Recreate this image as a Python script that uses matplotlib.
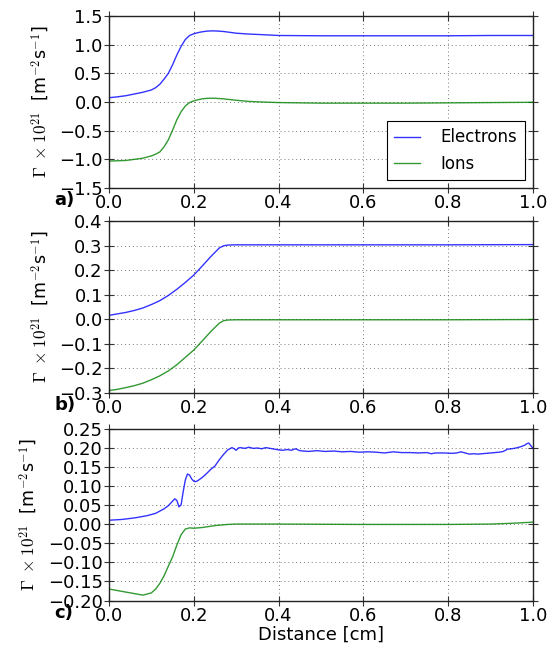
import matplotlib
matplotlib.use("Agg")
import matplotlib.pyplot as plt
import numpy as np

# ---- data ----
xa = [0, 0.02, 0.04, 0.06, 0.08, 0.10, 0.11, 0.12, 0.13, 0.14, 0.15, 0.16, 0.17, 0.18,
      0.19, 0.20, 0.21, 0.22, 0.23, 0.24, 0.25, 0.27, 0.30, 0.33, 0.36, 0.40, 0.5, 0.6,
      0.7, 0.8, 0.9, 1.0]
ea = [0.075, 0.09, 0.11, 0.14, 0.17, 0.21, 0.25, 0.31, 0.40, 0.50, 0.65, 0.82, 0.97, 1.09,
      1.16, 1.19, 1.21, 1.225, 1.235, 1.24, 1.24, 1.23, 1.20, 1.185, 1.175, 1.16, 1.155,
      1.155, 1.155, 1.155, 1.16, 1.16]
ia = [-1.03, -1.025, -1.02, -1.0, -0.98, -0.94, -0.91, -0.87, -0.78, -0.66, -0.49, -0.31,
      -0.17, -0.07, -0.01, 0.02, 0.04, 0.055, 0.063, 0.066, 0.065, 0.055, 0.03, 0.01, 0.0,
      -0.01, -0.02, -0.02, -0.02, -0.015, -0.01, -0.005]

xb = [0, 0.02, 0.04, 0.06, 0.08, 0.10, 0.12, 0.14, 0.16, 0.18, 0.20, 0.22, 0.24, 0.26,
      0.27, 0.28, 0.30, 0.40, 0.60, 0.80, 1.0]
eb = [0.016, 0.022, 0.028, 0.036, 0.046, 0.06, 0.076, 0.097, 0.122, 0.15, 0.18, 0.217,
      0.255, 0.29, 0.299, 0.302, 0.303, 0.303, 0.303, 0.303, 0.304]
ib = [-0.29, -0.285, -0.278, -0.27, -0.26, -0.246, -0.23, -0.21, -0.185, -0.155, -0.125,
      -0.088, -0.05, -0.016, -0.006, -0.003, -0.002, -0.002, -0.002, -0.002, -0.001]

xce = [0, 0.03, 0.06, 0.09, 0.11, 0.13, 0.14, 0.15, 0.155, 0.16, 0.165, 0.17, 0.175, 0.18,
       0.185, 0.19, 0.195, 0.20, 0.205, 0.21, 0.22, 0.23, 0.24, 0.25, 0.26, 0.27, 0.28,
       0.29, 0.295, 0.30, 0.305, 0.31, 0.32, 0.33, 0.34, 0.35, 0.36, 0.37, 0.38, 0.39,
       0.40, 0.41, 0.42, 0.43, 0.44, 0.45, 0.47, 0.49, 0.51, 0.53, 0.55, 0.57, 0.59,
       0.61, 0.63, 0.65, 0.67, 0.69, 0.71, 0.73, 0.75, 0.76, 0.77, 0.79, 0.81, 0.82,
       0.83, 0.84, 0.85, 0.86, 0.87, 0.89, 0.91, 0.92, 0.93, 0.94, 0.95, 0.96, 0.97,
       0.98, 0.985, 0.99, 1.0]
ec = [0.010, 0.012, 0.016, 0.022, 0.028, 0.040, 0.048, 0.060, 0.066, 0.062, 0.045, 0.050,
      0.085, 0.115, 0.131, 0.128, 0.118, 0.112, 0.111, 0.114, 0.122, 0.132, 0.143, 0.152,
      0.168, 0.182, 0.194, 0.200, 0.197, 0.193, 0.199, 0.200, 0.198, 0.201, 0.198, 0.199,
      0.197, 0.200, 0.198, 0.196, 0.194, 0.193, 0.195, 0.193, 0.197, 0.192, 0.190, 0.192,
      0.190, 0.191, 0.189, 0.190, 0.188, 0.189, 0.188, 0.186, 0.189, 0.187, 0.187, 0.186,
      0.187, 0.184, 0.186, 0.186, 0.185, 0.186, 0.189, 0.186, 0.183, 0.184, 0.183, 0.185,
      0.187, 0.188, 0.190, 0.196, 0.197, 0.199, 0.202, 0.206, 0.210, 0.212, 0.198]
xci = [0, 0.03, 0.05, 0.08, 0.10, 0.11, 0.12, 0.13, 0.14, 0.15, 0.16, 0.17, 0.18, 0.19,
       0.20, 0.22, 0.25, 0.28, 0.30, 0.40, 0.60, 0.80, 0.90, 0.95, 1.0]
ic = [-0.170, -0.176, -0.180, -0.186, -0.180, -0.170, -0.155, -0.135, -0.110, -0.086,
      -0.055, -0.028, -0.013, -0.010, -0.011, -0.009, -0.004, -0.001, 0.0, 0.0, -0.001,
      -0.001, 0.0, 0.002, 0.005]

yticks_a = [-1.5, -1.0, -0.5, 0.0, 0.5, 1.0, 1.5]
yticks_b = [-0.3, -0.2, -0.1, 0.0, 0.1, 0.2, 0.3, 0.4]
yticks_c = [-0.20, -0.15, -0.10, -0.05, 0.00, 0.05, 0.10, 0.15, 0.20, 0.25]
xticks = [0.0, 0.2, 0.4, 0.6, 0.8, 1.0]
panel_labels = ["a)", "b)", "c)"]

BLUE = "#0000ff"
GREEN = "#008000"

fig = plt.figure(figsize=(5.54, 6.48), dpi=100)
left, width, height = 109 / 554, 424 / 554, 172 / 648
bottoms = [1 - 188 / 648, 1 - 393 / 648, 1 - 600.5 / 648]

panels = [
    (xa, ea, xa, ia, yticks_a, "%.1f"),
    (xb, eb, xb, ib, yticks_b, "%.1f"),
    (xce, ec, xci, ic, yticks_c, "%.2f"),
]

ylabel = r"$\Gamma\ \times 10^{21}$  [m$^{-2}$s$^{-1}$]"

for k, (xe, ye, xi, yi, yt, fmt) in enumerate(panels):
    ax = fig.add_axes([left, bottoms[k], width, height])
    ax.plot(xe, ye, color=BLUE, lw=1.0, label="Electrons", alpha=0.8)
    ax.plot(xi, yi, color=GREEN, lw=1.0, label="Ions", alpha=0.8)
    ax.set_xlim(0, 1)
    ax.set_ylim(yt[0], yt[-1])
    ax.set_xticks(xticks)
    ax.set_yticks(yt)
    ax.set_xticklabels(["%.1f" % v for v in xticks])
    ax.set_yticklabels([(fmt % v).replace("-", "\u2212") for v in yt])
    ax.tick_params(direction="inout", length=7, width=0.8, labelsize=13, pad=1,
                   top=True, right=True, color="#333333")
    ax.grid(True, linestyle=(0, (1, 3)), color="#777777", linewidth=0.7)
    for s in ax.spines.values():
        s.set_linewidth(1.0)
        s.set_color("#222222")
    ax.set_ylabel(ylabel, fontsize=12.5, math_fontfamily="cm", labelpad=6)
    ax.text(-0.128, -0.07, panel_labels[k], transform=ax.transAxes, fontsize=13,
            fontweight="bold", ha="left", va="center")
    if k == 0:
        leg = ax.legend(loc="lower right", bbox_to_anchor=(0.98, 0.045), borderaxespad=0,
                        fontsize=12, fancybox=False, framealpha=1, edgecolor="black",
                        handlelength=1.55, handletextpad=1.2, borderpad=0.45)
        leg.get_frame().set_linewidth(0.8)
    if k == 2:
        ax.set_xlabel("Distance [cm]", fontsize=13, labelpad=1)

fig.savefig("out.png", dpi=100)
